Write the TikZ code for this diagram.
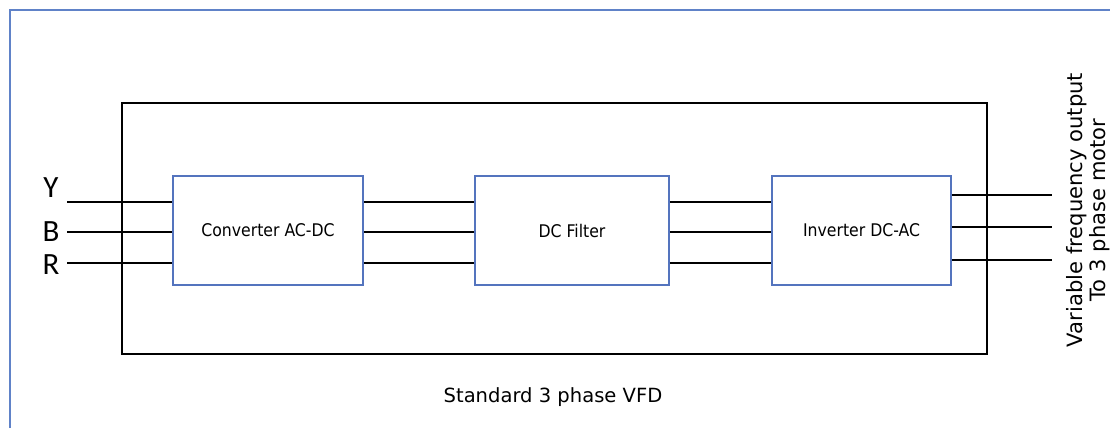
\documentclass[tikz,border=0pt]{standalone}
\usepackage{fontspec}
\setmainfont{DejaVu Sans}
\newfontfamily\blockfont{DejaVu Sans Condensed}
\newfontfamily\phasefont{Carlito}
\usetikzlibrary{positioning}
\definecolor{frameblue}{RGB}{96,130,200}
\definecolor{blockblue}{RGB}{84,116,190}
\tikzset{
  block/.style={draw=blockblue, line width=1.1pt, minimum width=4.75cm,
    minimum height=2.725cm, inner sep=0pt,
    font=\blockfont\fontsize{12.4}{14}\selectfont},
  wire/.style={line width=1.2pt},
  phase/.style={font=\phasefont\fontsize{22}{24}\selectfont, inner sep=0pt}
}

\begin{document}
\begin{tikzpicture}[x=0.025cm,y=-0.025cm]
    \useasboundingbox (0,0) rectangle (1110,428);
    \draw [frameblue, line width=1.4pt] (10,428) -- (10,10) -- (1110,10);
    \draw [line width=1.4pt] (122,103) rectangle (987,354);
    % the three stages
    \draw (268,230.5) node[block] (conv) {Converter AC-DC};
    \draw (572,230.5) node[block, minimum width=4.85cm] (filt) {DC Filter};
    \draw (861.5,230.5) node[block, minimum width=4.475cm] (inv) {Inverter DC-AC};
    % supply side
    \draw (51,188) node[phase] (Y) {Y};
    \draw (51,232) node[phase] (B) {B};
    \draw (51,265) node[phase] (R) {R};
    \coordinate (inY) at (67,202);
    \coordinate (inB) at (67,232);
    \coordinate (inR) at (67,263);
    \draw [wire] (inY) -- (inY -| conv.west);
    \draw [wire] (inB) -- (inB -| conv.west);
    \draw [wire] (inR) -- (inR -| conv.west);
    \draw [wire] (conv.east |- inY) -- (filt.west |- inY);
    \draw [wire] (conv.east |- inB) -- (filt.west |- inB);
    \draw [wire] (conv.east |- inR) -- (filt.west |- inR);
    \draw [wire] (filt.east |- inY) -- (inv.west |- inY);
    \draw [wire] (filt.east |- inB) -- (inv.west |- inB);
    \draw [wire] (filt.east |- inR) -- (inv.west |- inR);
    % motor side
    \coordinate (outA) at (1052,195);
    \coordinate (outB) at (1052,227);
    \coordinate (outC) at (1052,260);
    \draw [wire] (inv.east |- outA) -- (outA);
    \draw [wire] (inv.east |- outB) -- (outB);
    \draw [wire] (inv.east |- outC) -- (outC);
    \draw (1088,210) node[rotate=90, align=center, inner sep=0pt,
      font=\fontsize{15}{16}\selectfont] (motor)
      {Variable frequency output\\To 3 phase motor};
    \draw (553,397) node[font=\fontsize{13.9}{16}\selectfont] (vfd)
      {Standard 3 phase VFD};
\end{tikzpicture}
\end{document}
